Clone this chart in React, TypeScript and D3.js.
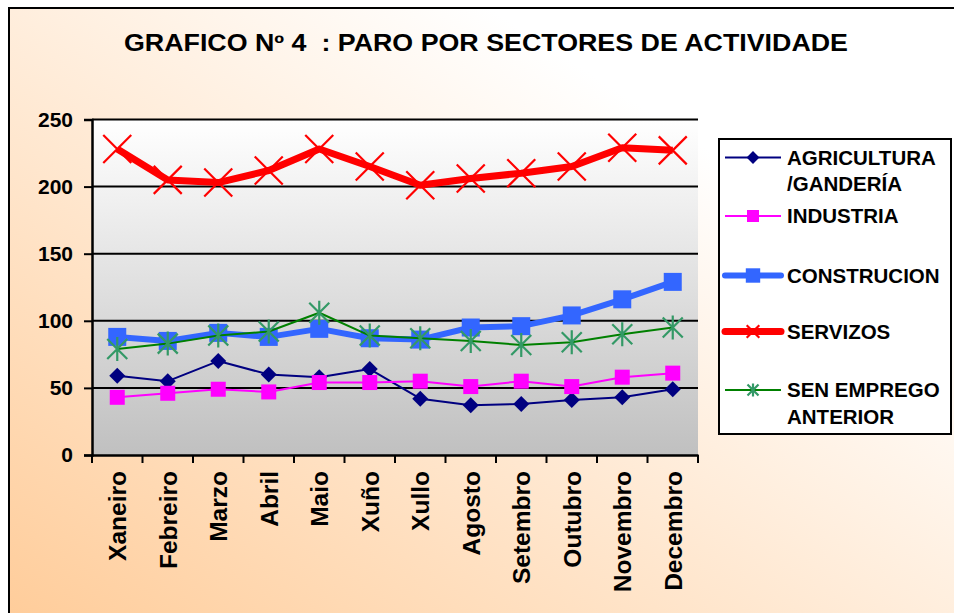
import React, { useEffect, useRef } from 'react';
import * as d3 from 'd3';

const MONTHS = ['Xaneiro', 'Febreiro', 'Marzo', 'Abril', 'Maio', 'Xuño', 'Xullo', 'Agosto', 'Setembro', 'Outubro', 'Novembro', 'Decembro'];
const AGRICULTURA = [59, 55, 70, 60, 58, 64, 42, 37, 38, 41, 43, 49];
const INDUSTRIA = [43, 46, 49, 47, 54, 54, 55, 51, 55, 51, 58, 61];
const CONSTRUCION = [88, 85, 91, 88, 94, 87, 86, 95, 96, 104, 116, 129];
const SERVIZOS = [228, 205, 203, 212, 228, 215, 201, 206, 210, 215, 229, 227];
const SEN_EMPREGO = [79, 83, 89, 92, 106, 89, 87, 85, 82, 84, 90, 95];
const Y_TICKS = [0, 50, 100, 150, 200, 250];
const TITLE = 'GRAFICO Nº 4  : PARO POR SECTORES DE ACTIVIDADE';

const SERIES = [
  { name: ['AGRICULTURA', '/GANDERÍA'], values: AGRICULTURA, color: '#000080', width: 2, marker: 'diamond', mcolor: '#000080' },
  { name: ['INDUSTRIA'], values: INDUSTRIA, color: '#FF00FF', width: 2, marker: 'square', mcolor: '#FF00FF' },
  { name: ['CONSTRUCION'], values: CONSTRUCION, color: '#3366FF', width: 6, marker: 'bigsquare', mcolor: '#3366FF' },
  { name: ['SERVIZOS'], values: SERVIZOS, color: '#FF0000', width: 7, marker: 'x', mcolor: '#FF0000' },
  { name: ['SEN EMPREGO', 'ANTERIOR'], values: SEN_EMPREGO, color: '#008000', width: 2, marker: 'star', mcolor: '#339966' },
];

// k scales the marker (legend markers are drawn smaller)
const drawMarker = (g: any, type: string, x: number, y: number, color: string, k = 1) => {
  if (type === 'diamond') {
    const s = 8 * k;
    g.append('path').attr('d', `M${x},${y - s}L${x + s},${y}L${x},${y + s}L${x - s},${y}Z`).attr('fill', color);
  } else if (type === 'square') {
    const s = 7.5 * k;
    g.append('rect').attr('x', x - s).attr('y', y - s).attr('width', 2 * s).attr('height', 2 * s).attr('fill', color);
  } else if (type === 'bigsquare') {
    const s = 9 * k;
    g.append('rect').attr('x', x - s).attr('y', y - s).attr('width', 2 * s).attr('height', 2 * s).attr('fill', color);
  } else if (type === 'x') {
    const s = 14 * k;
    g.append('path')
      .attr('d', `M${x - s},${y - s}L${x + s},${y + s}M${x - s},${y + s}L${x + s},${y - s}`)
      .attr('stroke', color)
      .attr('stroke-width', 2.2);
  } else if (type === 'star') {
    const s = 10 * k;
    g.append('path')
      .attr('d', `M${x - s},${y - s}L${x + s},${y + s}M${x - s},${y + s}L${x + s},${y - s}M${x},${y - s - 2 * k}L${x},${y + s + 2 * k}`)
      .attr('stroke', color)
      .attr('stroke-width', 2.2);
  }
};

export default function App() {
  const ref = useRef<SVGSVGElement>(null);

  useEffect(() => {
    const svg = d3.select(ref.current);
    svg.selectAll('*').remove();
    const width = 954,
      height = 613;
    const plot = { left: 92, right: 698, top: 119.5, bottom: 455 };
    const font = 'Liberation Sans, Arial, sans-serif';

    const defs = svg.append('defs');
    const bg = defs.append('linearGradient').attr('id', 'bg').attr('x1', '0').attr('y1', '1').attr('x2', '1').attr('y2', '0');
    bg.append('stop').attr('offset', '0').attr('stop-color', '#FFCC99');
    bg.append('stop').attr('offset', '0.75').attr('stop-color', '#FFFFFF');
    const pg = defs.append('linearGradient').attr('id', 'pg').attr('x1', '0').attr('y1', '0').attr('x2', '0').attr('y2', '1');
    pg.append('stop').attr('offset', '0').attr('stop-color', '#FFFFFF');
    pg.append('stop').attr('offset', '1').attr('stop-color', '#C0C0C0');

    svg.append('rect').attr('width', width).attr('height', height).attr('fill', '#fff');
    // chart area
    svg
      .append('rect')
      .attr('x', 9)
      .attr('y', 8)
      .attr('width', 960)
      .attr('height', 620)
      .attr('fill', 'url(#bg)')
      .attr('stroke', '#000')
      .attr('stroke-width', 2);

    svg
      .append('text')
      .attr('x', 486)
      .attr('y', 51)
      .attr('text-anchor', 'middle')
      .attr('font-family', font)
      .attr('font-weight', 'bold')
      .attr('font-size', 23)
      .attr('textLength', 724)
      .attr('lengthAdjust', 'spacingAndGlyphs')
      .style('white-space', 'pre')
      .text(TITLE);

    const x = d3.scaleBand().domain(MONTHS).range([plot.left, plot.right]);
    const y = d3.scaleLinear().domain([0, 250]).range([plot.bottom, plot.top]);

    svg
      .append('rect')
      .attr('x', plot.left)
      .attr('y', plot.top)
      .attr('width', plot.right - plot.left)
      .attr('height', plot.bottom - plot.top)
      .attr('fill', 'url(#pg)');

    // gridlines
    svg
      .append('g')
      .selectAll('line')
      .data(Y_TICKS.filter(d => d > 0))
      .enter()
      .append('line')
      .attr('x1', plot.left)
      .attr('x2', plot.right)
      .attr('y1', d => y(d))
      .attr('y2', d => y(d))
      .attr('stroke', '#000')
      .attr('stroke-width', 2);

    // y axis
    const yAxis = d3.axisLeft(y).tickValues(Y_TICKS).tickSize(8).tickPadding(11);
    const gy = svg.append('g').attr('transform', `translate(${plot.left},0)`).call(yAxis);
    gy.select('.domain').attr('stroke', '#000').attr('stroke-width', 2.5);
    gy.selectAll('.tick line').attr('stroke', '#000').attr('stroke-width', 2);
    gy.selectAll('text')
      .attr('font-family', font)
      .attr('font-weight', 'bold')
      .attr('font-size', 21)
      .attr('fill', '#000');

    // x axis
    const xAxis = d3.axisBottom(x).tickSize(0).tickFormat(() => '');
    const gx = svg.append('g').attr('transform', `translate(0,${plot.bottom})`).call(xAxis);
    gx.select('.domain').attr('stroke', '#000').attr('stroke-width', 2.5);
    const edges = MONTHS.map(m => x(m) as number).concat([plot.right]);
    svg
      .append('g')
      .selectAll('line')
      .data(edges)
      .enter()
      .append('line')
      .attr('x1', d => d)
      .attr('x2', d => d)
      .attr('y1', plot.bottom)
      .attr('y2', plot.bottom + 8)
      .attr('stroke', '#000')
      .attr('stroke-width', 2);
    svg
      .append('g')
      .selectAll('text')
      .data(MONTHS)
      .enter()
      .append('text')
      .attr('transform', d => `translate(${(x(d) as number) + x.bandwidth() / 2},471) rotate(-90)`)
      .attr('text-anchor', 'end')
      .attr('dy', '0.36em')
      .attr('font-family', font)
      .attr('font-weight', 'bold')
      .attr('font-size', 24.5)
      .text(d => d);

    const cx = (i: number) => (x(MONTHS[i]) as number) + x.bandwidth() / 2;
    const line = d3
      .line<number>()
      .x((d, i) => cx(i))
      .y(d => y(d));

    SERIES.forEach(s => {
      const g = svg.append('g');
      g.append('path')
        .attr('d', line(s.values))
        .attr('fill', 'none')
        .attr('stroke', s.color)
        .attr('stroke-width', s.width)
        .attr('stroke-linejoin', 'round');
      s.values.forEach((v, i) => drawMarker(g, s.marker, cx(i), y(v), s.mcolor));
    });

    // legend
    const lg = svg.append('g');
    lg.append('rect')
      .attr('x', 719)
      .attr('y', 139)
      .attr('width', 232)
      .attr('height', 295)
      .attr('fill', '#fff')
      .attr('stroke', '#000')
      .attr('stroke-width', 2);
    const ly = [157.5, 216, 275.5, 331.5, 390];
    SERIES.forEach((s, i) => {
      const yy = ly[i];
      lg.append('line')
        .attr('x1', 725)
        .attr('x2', 781)
        .attr('y1', yy)
        .attr('y2', yy)
        .attr('stroke', s.color)
        .attr('stroke-width', s.width)
        .attr('stroke-linecap', s.width > 3 ? 'round' : 'butt');
      drawMarker(lg, s.marker, 753, yy, s.mcolor, s.marker === 'x' ? 0.45 : s.marker === 'star' ? 0.55 : 0.8);
      s.name.forEach((n, j) => {
        lg.append('text')
          .attr('x', 787)
          .attr('y', yy + j * 26.5)
          .attr('dy', '0.36em')
          .attr('font-family', font)
          .attr('font-weight', 'bold')
          .attr('font-size', 20.5)
          .text(n);
      });
    });
  }, []);

  return <svg ref={ref} width={954} height={613} style={{ display: 'block', position: 'absolute', left: 0, top: 0 }} />;
}
